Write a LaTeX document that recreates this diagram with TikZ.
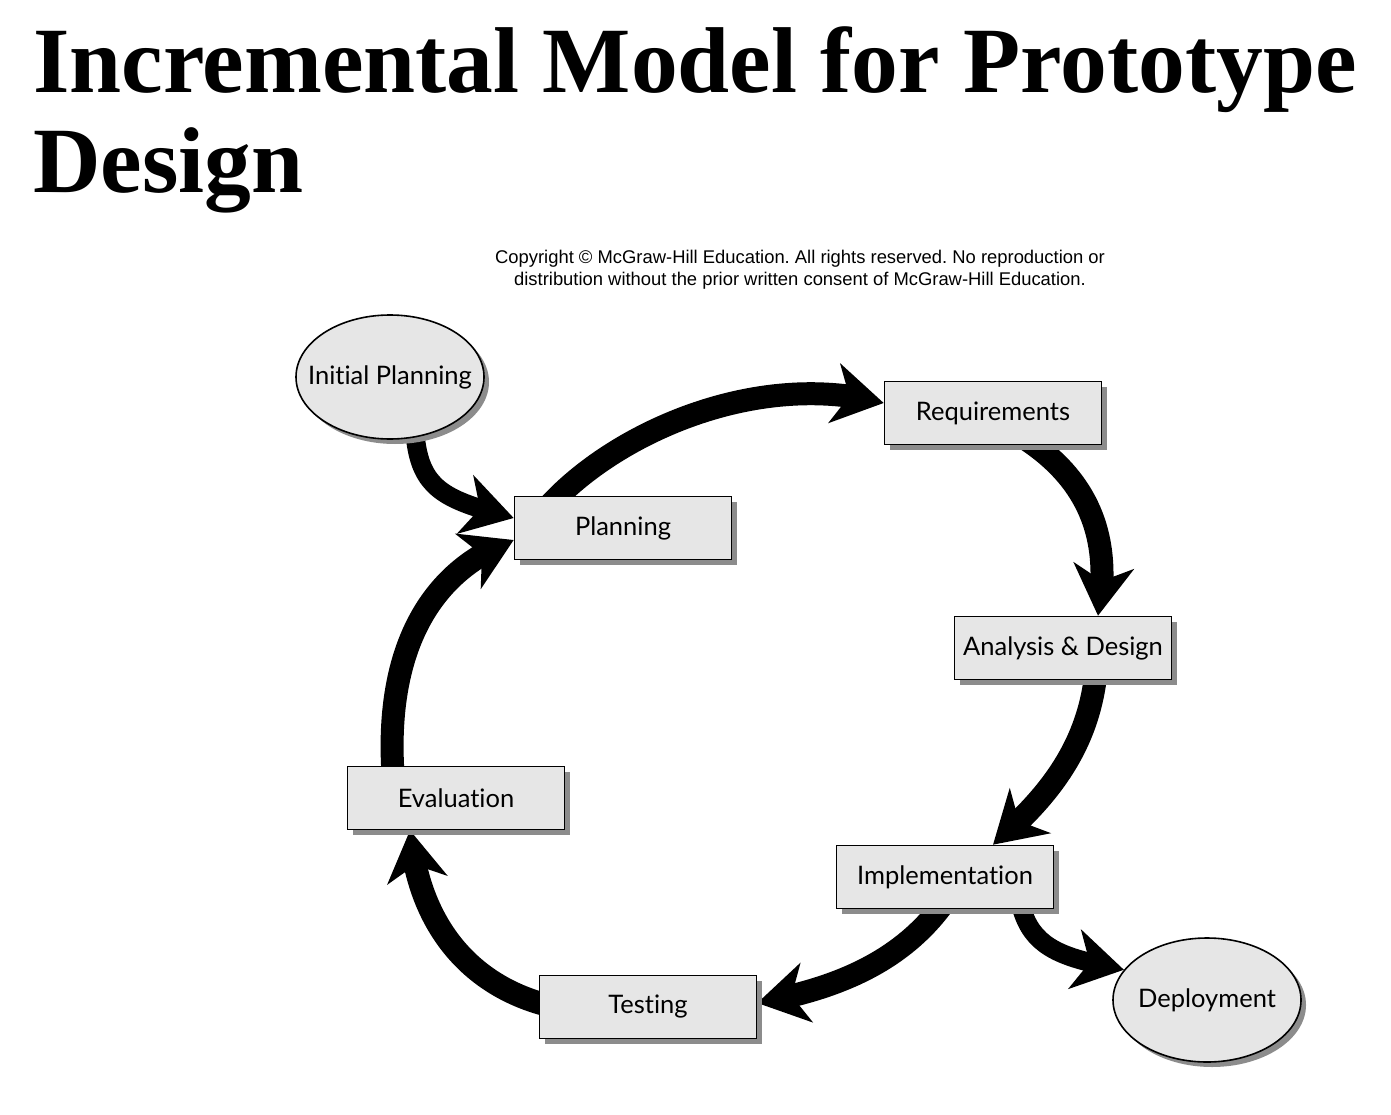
\documentclass[tikz,border=0pt]{standalone}
\usepackage{fontspec}
\setmainfont{Liberation Serif}
\newfontfamily\stagefont[Ligatures=NoCommon]{Lato}
\newfontfamily\notefont{Liberation Sans}
\usetikzlibrary{arrows.meta,bending,shadows,shapes.geometric,backgrounds}
\definecolor{boxgrey}{HTML}{E6E6E6}
\tikzset{
  stage/.style={draw=black, line width=1.6pt, fill=boxgrey, minimum width=217pt, minimum height=63pt, inner sep=0pt,
    font=\stagefont\fontsize{25.5}{28}\selectfont,
    drop shadow={shadow xshift=5pt, shadow yshift=-5pt, fill=black!45, opacity=1}},
  endpoint/.style={stage, ellipse, inner xsep=-20pt, minimum width=188pt, minimum height=124pt},
  flow/.style={line width=23pt, -{Stealth[length=50pt, width=60pt, inset=15pt, flex]}},
}

\begin{document}
\begin{tikzpicture}[x=1pt,y=-1pt]
\useasboundingbox (0,0) rectangle (1391,1115);
\node[anchor=base west, inner sep=0pt, font=\bfseries\fontsize{93.5}{100}\selectfont] (title1) at (33,93) {Incremental Model for Prototype};
\node[anchor=base west, inner sep=0pt, font=\bfseries\fontsize{93.5}{100}\selectfont] (title2) at (33,193) {Design};
\node[align=center, inner sep=0pt, font=\notefont\fontsize{18.4}{22}\selectfont\frenchspacing] (note) at (800,270) {Copyright \textcopyright{} McGraw-Hill Education. All rights reserved. No reproduction or\\distribution without the prior written consent of McGraw-Hill Education.};
\node[endpoint] (init) at (390,377) {Initial Planning};
\node[stage] (plan) at (623,528) {Planning};
\node[stage] (req) at (993,413) {Requirements};
\node[stage] (ana) at (1063,648) {Analysis \& Design};
\node[stage] (impl) at (945,877) {Implementation};
\node[stage] (test) at (648,1007) {Testing};
\node[stage] (eval) at (456,798) {Evaluation};
\node[endpoint] (dep) at (1207,1000) {Deployment};
\begin{scope}[on background layer]
\draw[flow, line width=19pt] ([xshift=25pt,yshift=6pt]init.south) .. controls (420,490) and (445,500) .. ([yshift=10pt]plan.west);
\draw[flow] ([xshift=-72pt,yshift=-8pt]plan.north) .. controls (620,430) and (760,370) .. ([yshift=10pt]req.west);
\draw[flow] ([xshift=30pt,yshift=8pt]req.south) .. controls (1090,480) and (1112,540) .. ([xshift=35pt]ana.north);
\draw[flow] ([xshift=33pt,yshift=8pt]ana.south) .. controls (1088,750) and (1045,800) .. ([xshift=48pt]impl.north);
\draw[flow] ([yshift=8pt]impl.south) .. controls (900,965) and (830,990) .. ([yshift=4pt]test.east);
\draw[flow, line width=19pt] ([xshift=75pt,yshift=8pt]impl.south) .. controls (1030,950) and (1065,958) .. (dep.160);
\draw[flow] ([xshift=8pt,yshift=2pt]test.west) .. controls (470,985) and (418,925) .. ([xshift=-46pt]eval.south);
\draw[flow] ([xshift=-63pt,yshift=-8pt]eval.north) .. controls (385,650) and (430,570) .. ([yshift=-12pt]plan.west);
\end{scope}
\end{tikzpicture}
\end{document}
